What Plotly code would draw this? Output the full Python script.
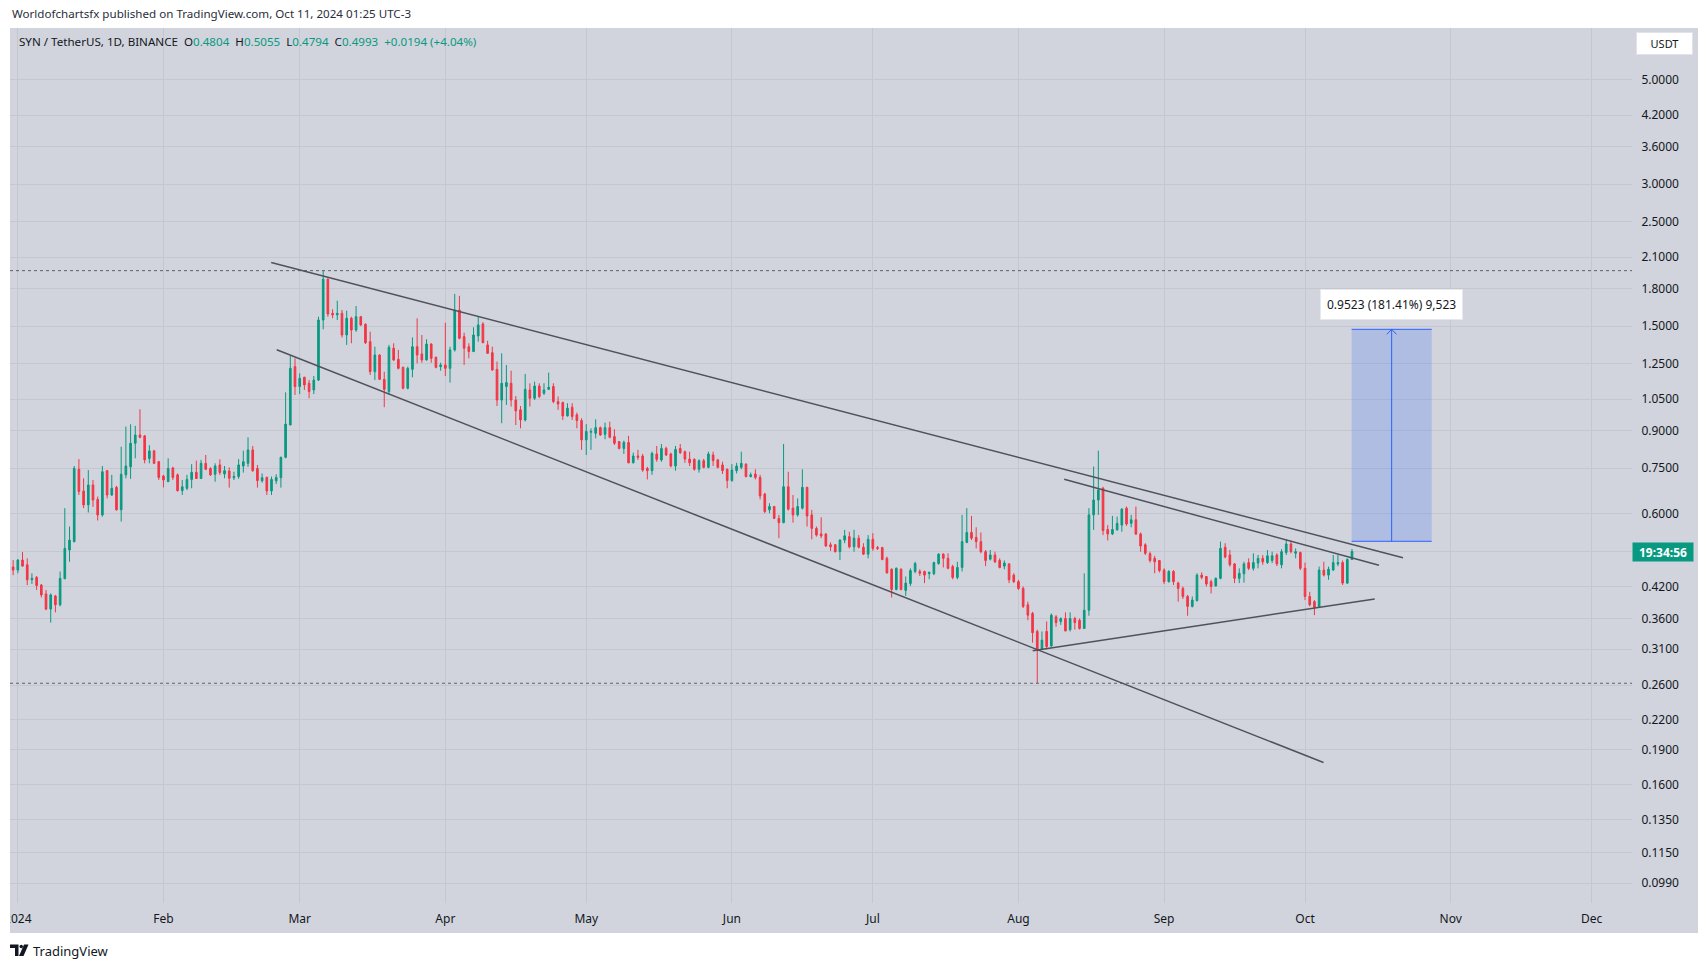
import math
import pandas as pd
import plotly.graph_objects as go

# ---------------- data ----------------
start_date = "2023-12-30"
end_date = "2024-10-11"

opens = [
    0.470, 0.463,
    0.456, 0.479, 0.468, 0.435, 0.440, 0.424, 0.406, 0.377, 0.402, 0.385, 0.437, 0.503, 0.524, 0.746, 0.671, 0.627, 0.691, 0.644, 0.597, 0.741, 0.658, 0.683, 0.612, 0.726, 0.755, 0.847, 0.882, 0.878, 0.786, 0.816, 0.774,
    0.722, 0.702, 0.751, 0.726, 0.672, 0.680, 0.710, 0.735, 0.713, 0.768, 0.749, 0.728, 0.762, 0.729, 0.740, 0.716, 0.720, 0.758, 0.768, 0.820, 0.749, 0.705, 0.717, 0.671, 0.705, 0.716, 0.791, 0.926, 1.231,
    1.117, 1.169, 1.135, 1.099, 1.153, 1.546, 1.886, 1.597, 1.585, 1.597, 1.437, 1.559, 1.472, 1.571, 1.514, 1.391, 1.201, 1.303, 1.157, 1.090, 1.347, 1.276, 1.227, 1.108, 1.215, 1.357, 1.310, 1.272, 1.375, 1.289, 1.231,
    1.241, 1.221, 1.336, 1.623, 1.425, 1.357, 1.325, 1.430, 1.516, 1.369, 1.318, 1.215, 1.046, 1.117, 1.135, 1.046, 0.997, 0.949, 1.099, 1.055, 1.120, 1.081, 1.102, 1.117, 1.038, 1.033, 0.968, 1.010, 0.973, 0.946,
    0.861, 0.894, 0.889, 0.914, 0.885, 0.914, 0.875, 0.854, 0.826, 0.850, 0.770, 0.796, 0.796, 0.749, 0.741, 0.804, 0.781, 0.826, 0.804, 0.758, 0.826, 0.813, 0.784, 0.783, 0.746, 0.778, 0.753, 0.800, 0.781, 0.762, 0.746,
    0.706, 0.741, 0.753, 0.765, 0.720, 0.729, 0.717, 0.661, 0.612, 0.622, 0.587, 0.575, 0.685, 0.617, 0.597, 0.617, 0.683, 0.597, 0.559, 0.544, 0.544, 0.516, 0.516, 0.499, 0.528, 0.537, 0.511, 0.533, 0.510, 0.493,
    0.530, 0.509, 0.509, 0.483, 0.458, 0.415, 0.458, 0.413, 0.427, 0.453, 0.453, 0.453, 0.448, 0.448, 0.471, 0.493, 0.483, 0.464, 0.440, 0.462, 0.522, 0.548, 0.535, 0.524, 0.499, 0.481, 0.491, 0.478, 0.465, 0.470, 0.445,
    0.431, 0.417, 0.385, 0.369, 0.338, 0.310, 0.338, 0.315, 0.363, 0.355, 0.360, 0.341, 0.360, 0.357, 0.343, 0.375, 0.597, 0.642, 0.680, 0.556, 0.544, 0.555, 0.568, 0.617, 0.573, 0.583, 0.544, 0.516, 0.494, 0.483, 0.478,
    0.456, 0.431, 0.453, 0.428, 0.417, 0.401, 0.382, 0.393, 0.445, 0.442, 0.431, 0.422, 0.438, 0.510, 0.491, 0.470, 0.438, 0.448, 0.473, 0.460, 0.472, 0.483, 0.473, 0.478, 0.491, 0.468, 0.497, 0.518, 0.495, 0.497,
    0.460, 0.401, 0.391, 0.380, 0.456, 0.445, 0.456, 0.470, 0.473, 0.428, 0.4804,
]
highs = [
    0.475, 0.479,
    0.481, 0.498, 0.483, 0.449, 0.443, 0.426, 0.414, 0.407, 0.404, 0.453, 0.617, 0.564, 0.758, 0.784, 0.714, 0.743, 0.708, 0.653, 0.758, 0.743, 0.726, 0.688, 0.833, 0.919, 0.929, 0.922, 1.000, 0.882, 0.839, 0.820, 0.777,
    0.726, 0.787, 0.755, 0.731, 0.708, 0.726, 0.765, 0.778, 0.781, 0.800, 0.753, 0.768, 0.783, 0.758, 0.753, 0.737, 0.784, 0.817, 0.872, 0.836, 0.762, 0.731, 0.720, 0.720, 0.728, 0.793, 1.086, 1.297, 1.282,
    1.192, 1.172, 1.153, 1.176, 1.571, 1.967, 1.895, 1.629, 1.699, 1.623, 1.618, 1.571, 1.655, 1.577, 1.521, 1.460, 1.357, 1.308, 1.201, 1.369, 1.380, 1.336, 1.231, 1.231, 1.420, 1.559, 1.437, 1.407, 1.380, 1.293, 1.255,
    1.526, 1.357, 1.756, 1.739, 1.453, 1.380, 1.492, 1.571, 1.530, 1.397, 1.357, 1.262, 1.314, 1.241, 1.207, 1.067, 1.016, 1.188, 1.135, 1.144, 1.135, 1.135, 1.196, 1.135, 1.064, 1.038, 1.030, 1.030, 0.984, 0.957,
    0.930, 0.911, 0.952, 0.919, 0.937, 0.941, 0.907, 0.856, 0.858, 0.878, 0.809, 0.820, 0.804, 0.755, 0.813, 0.836, 0.844, 0.833, 0.809, 0.836, 0.844, 0.817, 0.813, 0.787, 0.783, 0.785, 0.813, 0.813, 0.785, 0.774, 0.749,
    0.765, 0.770, 0.813, 0.768, 0.734, 0.746, 0.726, 0.665, 0.632, 0.624, 0.597, 0.844, 0.737, 0.658, 0.647, 0.746, 0.685, 0.612, 0.564, 0.590, 0.546, 0.522, 0.518, 0.530, 0.555, 0.550, 0.555, 0.541, 0.520, 0.541,
    0.546, 0.513, 0.511, 0.487, 0.460, 0.462, 0.460, 0.442, 0.460, 0.475, 0.458, 0.455, 0.453, 0.475, 0.495, 0.495, 0.495, 0.468, 0.475, 0.597, 0.617, 0.594, 0.562, 0.548, 0.503, 0.503, 0.499, 0.483, 0.478, 0.472, 0.449,
    0.435, 0.421, 0.391, 0.372, 0.341, 0.338, 0.355, 0.369, 0.366, 0.362, 0.371, 0.371, 0.363, 0.360, 0.449, 0.617, 0.756, 0.817, 0.685, 0.568, 0.594, 0.592, 0.617, 0.622, 0.597, 0.622, 0.548, 0.520, 0.499, 0.489, 0.479,
    0.460, 0.456, 0.456, 0.431, 0.421, 0.404, 0.401, 0.449, 0.451, 0.443, 0.435, 0.440, 0.524, 0.520, 0.503, 0.472, 0.460, 0.475, 0.483, 0.495, 0.491, 0.491, 0.503, 0.499, 0.495, 0.505, 0.530, 0.527, 0.507, 0.499,
    0.473, 0.410, 0.394, 0.464, 0.475, 0.464, 0.491, 0.491, 0.478, 0.483, 0.5055,
]
lows = [
    0.462, 0.445,
    0.449, 0.464, 0.424, 0.426, 0.414, 0.399, 0.375, 0.353, 0.371, 0.382, 0.437, 0.475, 0.522, 0.658, 0.617, 0.604, 0.621, 0.581, 0.592, 0.647, 0.655, 0.610, 0.578, 0.714, 0.712, 0.787, 0.868, 0.768, 0.768, 0.765, 0.708,
    0.683, 0.702, 0.708, 0.669, 0.658, 0.674, 0.680, 0.712, 0.712, 0.743, 0.722, 0.702, 0.726, 0.714, 0.682, 0.708, 0.712, 0.734, 0.755, 0.737, 0.682, 0.699, 0.658, 0.658, 0.694, 0.682, 0.787, 0.926, 1.072,
    1.077, 1.099, 1.055, 1.077, 1.148, 1.477, 1.571, 1.559, 1.546, 1.420, 1.369, 1.380, 1.460, 1.501, 1.375, 1.182, 1.153, 1.153, 1.010, 1.072, 1.266, 1.215, 1.102, 1.102, 1.169, 1.251, 1.255, 1.268, 1.255, 1.221, 1.207,
    1.176, 1.139, 1.325, 1.407, 1.241, 1.282, 1.325, 1.391, 1.380, 1.310, 1.207, 1.016, 0.934, 1.021, 1.013, 0.926, 0.911, 0.942, 1.013, 1.046, 1.055, 1.072, 1.099, 1.030, 0.997, 0.949, 0.965, 0.949, 0.911, 0.820,
    0.800, 0.820, 0.868, 0.878, 0.864, 0.868, 0.840, 0.822, 0.804, 0.768, 0.768, 0.781, 0.737, 0.710, 0.726, 0.774, 0.774, 0.796, 0.753, 0.741, 0.804, 0.770, 0.758, 0.741, 0.734, 0.749, 0.749, 0.758, 0.749, 0.729, 0.680,
    0.702, 0.731, 0.746, 0.717, 0.717, 0.710, 0.644, 0.602, 0.602, 0.585, 0.533, 0.573, 0.610, 0.575, 0.592, 0.613, 0.564, 0.530, 0.537, 0.533, 0.511, 0.501, 0.497, 0.479, 0.520, 0.507, 0.499, 0.507, 0.491, 0.483,
    0.501, 0.503, 0.479, 0.448, 0.399, 0.413, 0.413, 0.402, 0.422, 0.449, 0.443, 0.428, 0.436, 0.445, 0.468, 0.462, 0.458, 0.436, 0.436, 0.453, 0.520, 0.528, 0.507, 0.495, 0.465, 0.478, 0.472, 0.460, 0.458, 0.428, 0.428,
    0.414, 0.379, 0.357, 0.320, 0.2625, 0.309, 0.310, 0.313, 0.346, 0.349, 0.338, 0.338, 0.341, 0.341, 0.342, 0.365, 0.555, 0.597, 0.541, 0.527, 0.541, 0.553, 0.550, 0.566, 0.562, 0.541, 0.499, 0.491, 0.473, 0.449, 0.451,
    0.426, 0.429, 0.424, 0.391, 0.396, 0.365, 0.380, 0.391, 0.436, 0.421, 0.407, 0.421, 0.436, 0.483, 0.464, 0.428, 0.428, 0.429, 0.456, 0.455, 0.460, 0.468, 0.470, 0.472, 0.465, 0.460, 0.491, 0.495, 0.483, 0.456,
    0.394, 0.382, 0.366, 0.379, 0.442, 0.435, 0.455, 0.465, 0.424, 0.426, 0.4794,
]
closes = [
    0.466, 0.456,
    0.479, 0.465, 0.435, 0.438, 0.423, 0.404, 0.377, 0.404, 0.385, 0.438, 0.507, 0.528, 0.749, 0.669, 0.627, 0.691, 0.642, 0.597, 0.737, 0.658, 0.680, 0.612, 0.728, 0.758, 0.847, 0.882, 0.872, 0.781, 0.816, 0.768, 0.717,
    0.708, 0.749, 0.717, 0.672, 0.685, 0.710, 0.735, 0.713, 0.768, 0.746, 0.726, 0.758, 0.734, 0.741, 0.714, 0.720, 0.762, 0.774, 0.820, 0.741, 0.706, 0.716, 0.671, 0.710, 0.717, 0.791, 0.930, 1.221, 1.117,
    1.163, 1.126, 1.090, 1.153, 1.546, 1.886, 1.592, 1.585, 1.597, 1.437, 1.559, 1.472, 1.571, 1.509, 1.384, 1.201, 1.303, 1.157, 1.102, 1.353, 1.272, 1.221, 1.108, 1.221, 1.357, 1.303, 1.272, 1.375, 1.282, 1.227, 1.241,
    1.221, 1.336, 1.623, 1.414, 1.347, 1.325, 1.437, 1.509, 1.384, 1.314, 1.211, 1.046, 1.135, 1.139, 1.046, 0.992, 0.949, 1.102, 1.055, 1.120, 1.064, 1.099, 1.113, 1.038, 1.026, 0.968, 1.005, 0.965, 0.946, 0.861,
    0.897, 0.897, 0.914, 0.882, 0.914, 0.872, 0.847, 0.826, 0.851, 0.770, 0.796, 0.791, 0.743, 0.741, 0.806, 0.783, 0.826, 0.800, 0.758, 0.822, 0.809, 0.784, 0.770, 0.746, 0.778, 0.753, 0.804, 0.778, 0.753, 0.741, 0.706,
    0.743, 0.758, 0.768, 0.720, 0.726, 0.717, 0.655, 0.607, 0.622, 0.587, 0.575, 0.685, 0.614, 0.597, 0.622, 0.683, 0.594, 0.559, 0.541, 0.539, 0.513, 0.511, 0.499, 0.528, 0.539, 0.511, 0.533, 0.510, 0.493, 0.530,
    0.507, 0.507, 0.480, 0.450, 0.415, 0.460, 0.415, 0.428, 0.455, 0.471, 0.449, 0.445, 0.451, 0.473, 0.493, 0.483, 0.460, 0.440, 0.462, 0.524, 0.548, 0.533, 0.524, 0.499, 0.478, 0.491, 0.475, 0.462, 0.472, 0.435, 0.431,
    0.417, 0.382, 0.366, 0.336, 0.309, 0.324, 0.314, 0.366, 0.353, 0.360, 0.339, 0.360, 0.353, 0.343, 0.375, 0.597, 0.642, 0.674, 0.553, 0.544, 0.556, 0.573, 0.614, 0.571, 0.583, 0.544, 0.513, 0.495, 0.478, 0.475, 0.455,
    0.431, 0.453, 0.431, 0.417, 0.401, 0.382, 0.394, 0.445, 0.440, 0.426, 0.421, 0.438, 0.507, 0.486, 0.468, 0.438, 0.449, 0.470, 0.460, 0.473, 0.483, 0.475, 0.489, 0.489, 0.470, 0.499, 0.518, 0.499, 0.499, 0.460,
    0.401, 0.385, 0.380, 0.456, 0.445, 0.458, 0.473, 0.473, 0.428, 0.4804, 0.4993,
]

# price-axis labels (the 0.5000 label is hidden behind the countdown box in the reference)
price_ticks = [5.0, 4.2, 3.6, 3.0, 2.5, 2.1, 1.8, 1.5, 1.25, 1.05, 0.9, 0.75, 0.6, 0.5,
               0.42, 0.36, 0.31, 0.26, 0.22, 0.19, 0.16, 0.135, 0.115, 0.099]
hidden_ticks = [0.5]
month_ticks = ["2024-01-01", "2024-02-01", "2024-03-01", "2024-04-01", "2024-05-01", "2024-06-01",
               "2024-07-01", "2024-08-01", "2024-09-01", "2024-10-01", "2024-11-01", "2024-12-01"]
month_labels = ["2024", "Feb", "Mar", "Apr", "May", "Jun", "Jul", "Aug", "Sep", "Oct", "Nov", "Dec"]

# drawn trend lines (start / end in date, price)
upper_channel_x = ["2024-02-23 22:30", "2024-10-21 20:24"]
upper_channel_y = [2.047, 0.4846]
lower_channel_x = ["2024-02-25 02:38", "2024-10-04 22:19"]
lower_channel_y = [1.337, 0.1783]
triangle_top_x = ["2024-08-10 17:31", "2024-10-16 17:46"]
triangle_top_y = [0.7105, 0.467]
triangle_bottom_x = ["2024-08-04 00:43", "2024-10-15 19:55"]
triangle_bottom_y = [0.3078, 0.396]

# price-range measure
measure_x = ["2024-10-10 22:00", "2024-10-27 23:00"]
measure_mid_x = "2024-10-19 10:30"
measure_y = [0.5249, 1.4772]
measure_text = "0.9523 (181.41%) 9,523"

# header
header_text = "Worldofchartsfx published on TradingView.com, Oct 11, 2024 01:25 UTC-3"
symbol_text = "SYN / TetherUS, 1D, BINANCE"
ohlc_values = ["0.4804", "0.5055", "0.4794", "0.4993"]
change_text = "+0.0194 (+4.04%)"
last_price = 0.4993
countdown_text = "19:34:56"

# ---------------- styling ----------------
BG = "#d1d4dc"
GRID = "#c4c7d0"
UP = "#089981"
DOWN = "#f23645"
TEXT = "#131722"
LINE = "#4f525c"
FONT = "Noto Sans"

W, H = 1708, 968
PL, PR, PT, PB = 10, 1632, 28, 903   # plot area in pixels


def pxx(x):
    return (x - PL) / (PR - PL)


def pxy(y):
    return (PB - y) / (PB - PT)


dates = pd.date_range(start_date, end_date, freq="D")
assert len(dates) == len(opens) == len(highs) == len(lows) == len(closes)

fig = go.Figure()

fig.add_trace(go.Candlestick(
    x=dates, open=opens, high=highs, low=lows, close=closes,
    increasing=dict(line=dict(color=UP, width=1), fillcolor=UP),
    decreasing=dict(line=dict(color=DOWN, width=1), fillcolor=DOWN),
    whiskerwidth=0, showlegend=False, hoverinfo="skip",
))

x_range = ["2023-12-30 08:00", "2024-12-09 14:24"]

# dotted high / low lines
for lvl in (max(highs), min(lows)):
    fig.add_trace(go.Scatter(x=x_range, y=[lvl, lvl], mode="lines",
                             line=dict(color="#5d606b", width=1, dash="dot"),
                             showlegend=False, hoverinfo="skip"))

# trend lines
for xs, ys in ((upper_channel_x, upper_channel_y), (lower_channel_x, lower_channel_y),
               (triangle_top_x, triangle_top_y), (triangle_bottom_x, triangle_bottom_y)):
    fig.add_trace(go.Scatter(x=xs, y=ys, mode="lines", line=dict(color=LINE, width=1.5),
                             showlegend=False, hoverinfo="skip"))

# measure box
mx0, mx1 = measure_x
my0, my1 = measure_y
fig.add_trace(go.Scatter(x=[mx0, mx1, mx1, mx0, mx0], y=[my0, my0, my1, my1, my0],
                         mode="lines", fill="toself", fillcolor="rgba(41,98,255,0.2)",
                         line=dict(width=0), showlegend=False, hoverinfo="skip"))
for yy in (my0, my1):
    fig.add_trace(go.Scatter(x=[mx0, mx1], y=[yy, yy], mode="lines",
                             line=dict(color="#2962ff", width=1), showlegend=False, hoverinfo="skip"))
fig.add_trace(go.Scatter(x=[measure_mid_x, measure_mid_x], y=[my0, my1], mode="lines",
                         line=dict(color="#2962ff", width=1), showlegend=False, hoverinfo="skip"))
mid = pd.Timestamp(measure_mid_x)
arm = pd.Timedelta(hours=25)
fig.add_trace(go.Scatter(x=[mid - arm, mid, mid + arm], y=[my1 / 1.025, my1, my1 / 1.025], mode="lines",
                         line=dict(color="#2962ff", width=1), showlegend=False, hoverinfo="skip"))

shapes = [
    # grey pane incl. axes strips
    dict(type="rect", xref="paper", yref="paper", x0=0, x1=pxx(1698), y0=pxy(933), y1=1,
         fillcolor=BG, line=dict(width=0), layer="below"),
    # clip of the first date label at the pane edge
    dict(type="rect", xref="paper", yref="paper", x0=pxx(0), x1=0, y0=pxy(940), y1=pxy(903),
         fillcolor="white", line=dict(width=0), layer="above"),
    # TradingView logo
    dict(type="path", xref="paper", yref="paper", layer="above", line=dict(width=0), fillcolor=TEXT,
         path=f"M {pxx(10)},{pxy(944.5)} L {pxx(18.5)},{pxy(944.5)} L {pxx(18.5)},{pxy(956)} "
              f"L {pxx(15)},{pxy(956)} L {pxx(15)},{pxy(948)} L {pxx(10)},{pxy(948)} Z"),
    dict(type="circle", xref="paper", yref="paper", layer="above", line=dict(width=0), fillcolor=TEXT,
         x0=pxx(19.5), x1=pxx(23), y0=pxy(948.2), y1=pxy(944.7)),
    dict(type="path", xref="paper", yref="paper", layer="above", line=dict(width=0), fillcolor=TEXT,
         path=f"M {pxx(24)},{pxy(944.5)} L {pxx(28.5)},{pxy(944.5)} L {pxx(23.5)},{pxy(956)} "
              f"L {pxx(19)},{pxy(956)} Z"),
]

g = f"<span style='color:{UP}'>"
legend_html = (f"{symbol_text}&nbsp;&nbsp;O{g}{ohlc_values[0]}</span>&nbsp;&nbsp;H{g}{ohlc_values[1]}</span>"
               f"&nbsp;&nbsp;L{g}{ohlc_values[2]}</span>&nbsp;&nbsp;C{g}{ohlc_values[3]}</span>"
               f"&nbsp;&nbsp;{g}{change_text}</span>")

annotations = [
    dict(text=header_text, xref="paper", yref="paper", x=pxx(10), y=pxy(14), xanchor="left",
         yanchor="middle", showarrow=False, font=dict(family=FONT, size=11.6, color="#2a2e39")),
    dict(text=legend_html, xref="paper", yref="paper", x=pxx(17), y=pxy(41.5), xanchor="left",
         yanchor="middle", showarrow=False, font=dict(family=FONT, size=11.6, color=TEXT)),
    dict(text="USDT", xref="paper", yref="paper", x=pxx(1664.5), y=pxy(43.5), xanchor="center",
         yanchor="middle", showarrow=False, width=53, height=19, bgcolor="white",
         bordercolor="#e0e3eb", borderwidth=1, font=dict(family=FONT, size=11, color=TEXT)),
    dict(text=f"<b>{countdown_text}</b>", xref="paper", yref="y", x=pxx(1663), y=math.log10(last_price),
         xanchor="center", yanchor="middle", showarrow=False, width=56, height=14, borderpad=2,
         bgcolor=UP, font=dict(family=FONT, size=12, color="white")),
    dict(text=measure_text, xref="x", yref="y", x=measure_mid_x, y=math.log10(my1), xanchor="center",
         yanchor="bottom", yshift=9, showarrow=False, bgcolor="white", borderpad=6,
         bordercolor="#e6e8ee", borderwidth=1, font=dict(family=FONT, size=12, color=TEXT)),
    dict(text="TradingView", xref="paper", yref="paper", x=pxx(31), y=pxy(950.5), xanchor="left",
         yanchor="middle", showarrow=False, font=dict(family=FONT, size=13, color=TEXT)),
]

fig.update_layout(
    width=W, height=H,
    margin=dict(l=PL, r=W - PR, t=PT, b=H - PB, pad=0, autoexpand=False),
    paper_bgcolor="white", plot_bgcolor=BG,
    font=dict(family=FONT, size=12, color=TEXT),
    showlegend=False, hovermode=False, boxgap=0.5,
    shapes=shapes, annotations=annotations,
    xaxis=dict(type="date", range=x_range, tickvals=month_ticks, ticktext=month_labels,
               showgrid=True, gridcolor=GRID, gridwidth=1, zeroline=False, showline=False,
               ticks="outside", ticklen=5, tickcolor=BG, tickfont=dict(size=12, color=TEXT),
               rangeslider=dict(visible=False), fixedrange=True, automargin=False),
    yaxis=dict(type="log", range=[math.log10(0.0898), math.log10(6.43)], side="right",
               tickvals=price_ticks,
               ticktext=["" if v in hidden_ticks else f"{v:.4f}" for v in price_ticks],
               showgrid=True, gridcolor=GRID, gridwidth=1, zeroline=False, showline=False,
               ticks="outside", ticklen=6, tickcolor=BG, tickfont=dict(size=12, color=TEXT),
               fixedrange=True, automargin=False),
)

fig.write_html("out.html")
